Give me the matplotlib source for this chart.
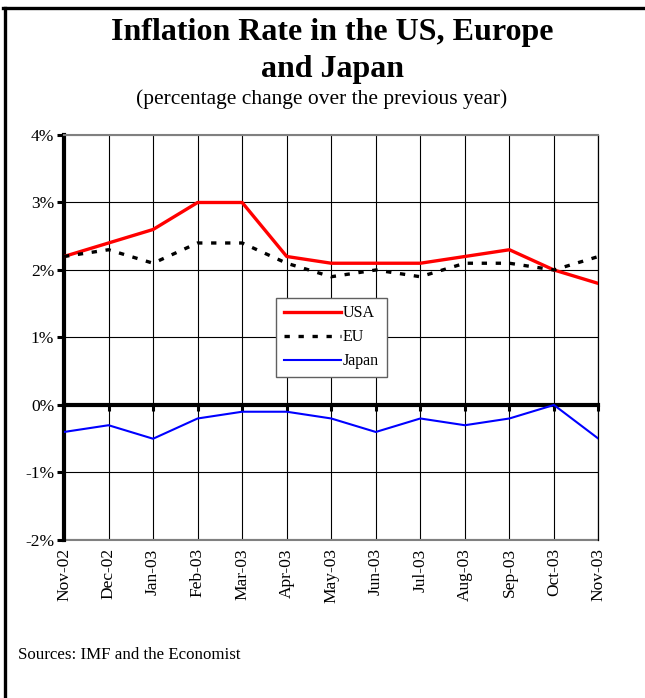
import numpy as np
import matplotlib.pyplot as plt
from matplotlib.lines import Line2D

months = ['Nov-02', 'Dec-02', 'Jan-03', 'Feb-03', 'Mar-03', 'Apr-03', 'May-03',
          'Jun-03', 'Jul-03', 'Aug-03', 'Sep-03', 'Oct-03', 'Nov-03']
usa = [2.2, 2.4, 2.6, 3.0, 3.0, 2.2, 2.1, 2.1, 2.1, 2.2, 2.3, 2.0, 1.8]
eu = [2.2, 2.3, 2.1, 2.4, 2.4, 2.1, 1.9, 2.0, 1.9, 2.1, 2.1, 2.0, 2.2]
japan = [-0.4, -0.3, -0.5, -0.2, -0.1, -0.1, -0.2, -0.4, -0.2, -0.3, -0.2, 0.0, -0.5]
yticks = [-2, -1, 0, 1, 2, 3, 4]

plt.rcParams['font.family'] = ['Liberation Serif', 'DejaVu Serif']

fig = plt.figure(figsize=(6.45, 6.98), dpi=100)
ax = fig.add_axes([0.0992, 0.2264, 0.8287, 0.5802])
x = np.arange(len(months))

ax.plot(x, usa, color='#ff0000', lw=2.4, label='USA', zorder=4)
ax.plot(x, eu, color='black', lw=2.4, linestyle=(0, (1.6, 2.6)), label='EU', zorder=4)
ax.plot(x, japan, color='#0000ff', lw=1.5, label='Japan', zorder=4)

ax.set_xlim(0, len(months) - 1)
ax.set_ylim(-2, 4)
ax.set_yticks(yticks)
ax.set_yticklabels([f'{v}%' for v in yticks], fontsize=12.5)

# zero line carries the x ticks
ax.spines['bottom'].set_position(('data', 0))
ax.spines['bottom'].set_linewidth(3)
ax.spines['bottom'].set_zorder(3)
ax.set_xticks(x)
ax.set_xticklabels([])
ax.tick_params(axis='x', direction='out', length=4, width=2.2, color='black')
ax.tick_params(axis='y', direction='out', length=5, width=2.2, pad=2)
ax.spines['left'].set_linewidth(3)
ax.spines['top'].set_color('#808080')
ax.spines['top'].set_linewidth(1.5)
ax.spines['right'].set_linewidth(0.9)

ax.grid(True, color='black', lw=0.8)
for v, gl in zip(yticks, ax.get_ygridlines()):
    if v in (-2, 4):
        gl.set_color('#808080')
        gl.set_linewidth(1.5)

sec = ax.secondary_xaxis('bottom')
sec.set_xticks(x)
sec.set_xticklabels(months, rotation=90, fontsize=12.5)
sec.tick_params(length=0, pad=6)
sec.spines['bottom'].set_color('#808080')
sec.spines['bottom'].set_linewidth(1.5)

leg = ax.legend(loc='center', fontsize=11.5, handlelength=3.6, handletextpad=0.1,
                labelspacing=0.5, borderpad=0.5, fancybox=False, framealpha=1,
                edgecolor='#606060', borderaxespad=0)
leg.get_frame().set_linewidth(1.0)
leg.set_zorder(5)

fig.text(0.515, 0.953, 'Inflation Rate in the US, Europe', ha='center', va='center',
         fontsize=23, fontweight='bold')
fig.text(0.515, 0.901, 'and Japan', ha='center', va='center',
         fontsize=23, fontweight='bold')
fig.text(0.498, 0.858, '(percentage change over the previous year)', ha='center',
         va='center', fontsize=15.5)
fig.text(0.028, 0.062, 'Sources: IMF and the Economist', ha='left', va='center',
         fontsize=12.2)

# outer frame: top and left edges
fig.add_artist(Line2D([0.005, 0.997], [0.988, 0.988], color='black', lw=2.4,
                      transform=fig.transFigure))
fig.add_artist(Line2D([0.0078, 0.0078], [0.0, 0.988], color='black', lw=2.4,
                      transform=fig.transFigure))

fig.savefig('out.png', dpi=100)
